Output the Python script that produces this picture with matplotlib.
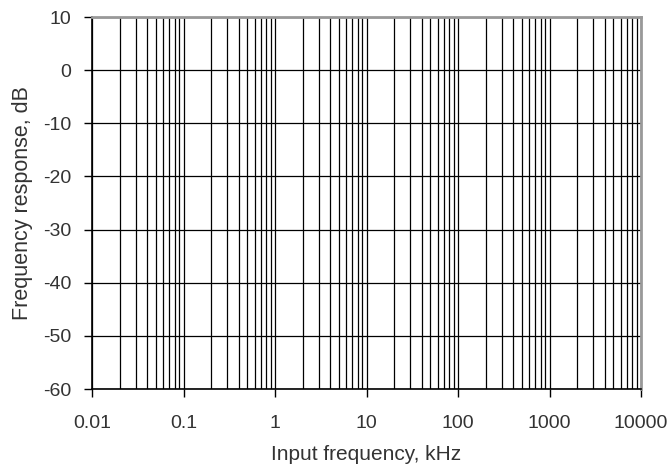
import numpy as np
import matplotlib.pyplot as plt
from matplotlib.ticker import LogLocator, FixedLocator, NullFormatter

# empty log-frequency response grid
x_ticks = [0.01, 0.1, 1, 10, 100, 1000, 10000]
x_labels = ['0.01', '0.1', '1', '10', '100', '1000', '10000']
y_ticks = [-60, -50, -40, -30, -20, -10, 0, 10]
x_label = 'Input frequency, kHz'
y_label = 'Frequency response, dB'

plt.rcParams['font.family'] = ['Liberation Sans', 'DejaVu Sans']
plt.rcParams['axes.unicode_minus'] = False

fig = plt.figure(figsize=(6.71, 4.70), dpi=100)
ax = fig.add_axes([92/671, 81/470, 549/671, 372/470])

ax.set_xscale('log')
ax.set_xlim(x_ticks[0], x_ticks[-1])
ax.set_ylim(y_ticks[0], y_ticks[-1])
ax.xaxis.set_major_locator(FixedLocator(x_ticks))
ax.set_xticklabels(x_labels)
ax.xaxis.set_minor_locator(LogLocator(base=10, subs=np.arange(2, 10)))
ax.xaxis.set_minor_formatter(NullFormatter())
ax.set_yticks(y_ticks)

ax.grid(True, which='both', axis='x', color='black', lw=0.9)
ax.grid(True, which='major', axis='y', color='black', lw=0.9)

ax.tick_params(axis='both', which='major', direction='out', length=6, width=1,
               labelsize=14, color='black', labelcolor='#333333')
ax.tick_params(axis='y', pad=9)
ax.tick_params(axis='x', pad=13)
ax.tick_params(axis='x', which='minor', length=0)

for side in ['left', 'bottom']:
    ax.spines[side].set_color('black')
    ax.spines[side].set_linewidth(1.2)
for side in ['top', 'right']:
    ax.spines[side].set_color('#999999')
    ax.spines[side].set_linewidth(2)

ax.set_xlabel(x_label, fontsize=15, labelpad=9, color='#333333')
ax.set_ylabel(y_label, fontsize=15.5, labelpad=7, color='#333333')

fig.savefig('out.png', dpi=100, facecolor='white')
